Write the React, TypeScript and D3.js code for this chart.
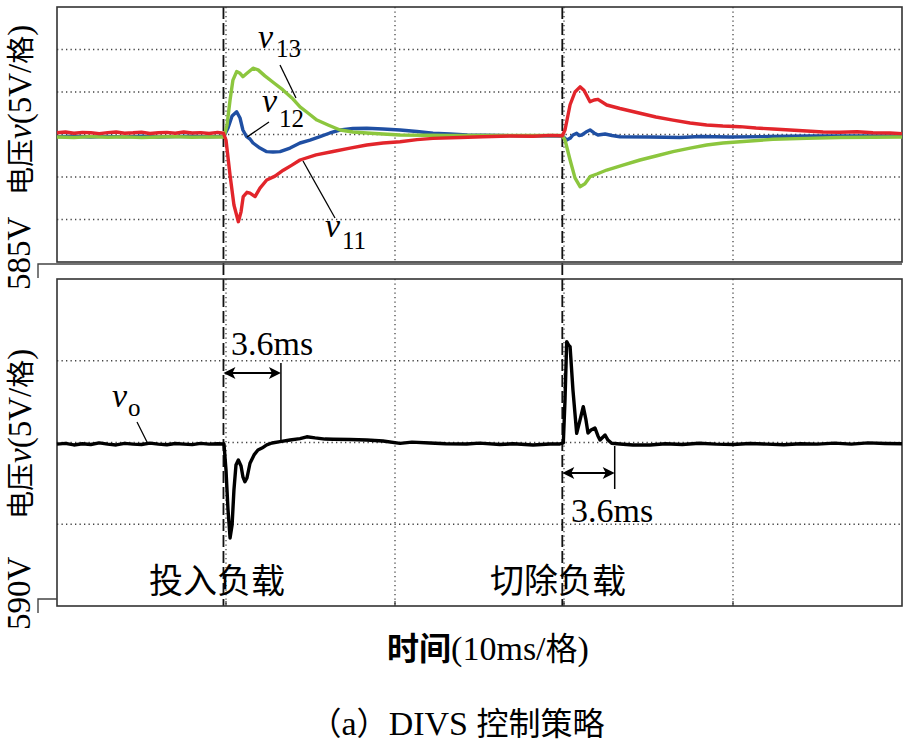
import React from "react";
import * as d3 from "d3";

type P = [number, number];

const eventTimes = [9.85, 29.9];
const xTicks = [10, 20, 30, 40];
const topGridV = [-10, -5, 0, 5, 10];
const botGridV = [-5, 0, 5];

const v11: P[] = [[0,0.2],[0.5,0.3],[1,0.15],[1.5,0.25],[2,0.2],[2.5,0.1],[3,0.22],[3.5,0.3],[4,0.15],[4.5,0.2],[5,0.28],[5.5,0.12],[6,0.2],[6.5,0.25],[7,0.15],[7.5,0.3],[8,0.18],[8.5,0.22],[9,0.12],[9.5,0.25],[9.85,0.15],[10.0,-0.65],[10.24,-4.8],[10.47,-8.3],[10.73,-10.26],[10.89,-9.1],[11.02,-7.3],[11.24,-6.8],[11.42,-6.9],[11.72,-7.3],[12.01,-6.3],[12.41,-5.35],[12.9,-4.9],[13.39,-4.2],[13.9,-3.6],[14.38,-3.0],[15.33,-2.4],[16.33,-2.0],[17.34,-1.6],[18.33,-1.24],[19.29,-1.0],[20.3,-0.85],[21.3,-0.6],[22.25,-0.45],[23.85,-0.35],[25.2,-0.26],[26.8,-0.18],[28.17,-0.2],[29.2,-0.1],[29.9,-0.15],[30.06,0.53],[30.36,3.5],[30.65,5.0],[30.95,5.6],[31.18,5.2],[31.54,3.86],[31.78,4.06],[32.01,4.14],[32.53,3.47],[33.31,3.06],[34.5,2.5],[35.44,2.06],[36.45,1.7],[37.46,1.35],[38.44,1.12],[39.4,1.0],[40.41,0.92],[41.36,0.76],[42.37,0.65],[43.37,0.53],[44.36,0.41],[45.33,0.29],[46.33,0.26],[47.34,0.32],[48.28,0.21],[49.29,0.18],[50,0.1]];

const v12: P[] = [[0,-0.25],[1,-0.2],[2,-0.3],[3,-0.22],[4,-0.28],[5,-0.2],[6,-0.3],[7,-0.24],[8,-0.2],[9,-0.28],[9.88,-0.2],[10.12,0.76],[10.36,2.18],[10.63,2.68],[10.83,1.94],[11.0,0.53],[11.22,-0.26],[11.42,-0.53],[11.6,-1.0],[12.01,-1.6],[12.41,-2.02],[12.78,-2.06],[13.2,-2.02],[13.79,-1.6],[14.38,-1.0],[14.97,-0.65],[15.56,-0.26],[16.15,0.18],[16.75,0.53],[17.51,0.7],[18.33,0.73],[19.29,0.65],[20.3,0.53],[21.3,0.35],[22.25,0.14],[23.25,0.06],[24.26,-0.06],[26.2,-0.12],[28,-0.15],[29.9,-0.18],[29.96,-0.26],[30.16,-0.65],[30.36,-0.45],[30.53,-0.06],[30.75,0.14],[30.89,-0.12],[31.05,-0.06],[31.3,0.29],[31.54,0.53],[31.78,0.18],[32.01,-0.06],[32.43,0.06],[32.84,-0.12],[33.31,-0.26],[35.09,-0.3],[36.86,-0.35],[38.05,-0.24],[39.82,-0.3],[42.19,-0.24],[44.56,-0.18],[46.92,-0.18],[50,-0.18]];

const v13: P[] = [[0,-0.3],[1,-0.35],[2,-0.25],[3,-0.32],[4,-0.28],[5,-0.35],[6,-0.3],[7,-0.25],[8,-0.33],[9,-0.28],[9.88,-0.3],[10.06,1.1],[10.24,4.06],[10.41,6.4],[10.63,7.4],[10.83,7.2],[11.0,6.8],[11.24,7.2],[11.6,7.8],[11.9,7.6],[12.3,6.9],[12.84,6.06],[13.37,5.24],[13.9,4.3],[14.38,3.24],[14.85,2.53],[15.38,1.7],[16.04,1.12],[16.75,0.53],[17.51,0.29],[18.34,0.18],[19.29,0.06],[20.3,-0.06],[23.25,-0.12],[26.2,-0.12],[29.9,-0.12],[30.06,-0.65],[30.36,-3.0],[30.65,-5.1],[30.95,-6.14],[31.24,-5.8],[31.54,-4.96],[31.95,-4.65],[32.53,-4.18],[33.49,-3.6],[34.5,-3.0],[35.44,-2.53],[36.45,-2.02],[37.46,-1.6],[38.44,-1.24],[39.4,-1.0],[40.41,-0.85],[42.37,-0.56],[44.36,-0.45],[46.33,-0.35],[48.28,-0.33],[50,-0.3]];

const vo: P[] = [[0,-0.1],[0.5,-0.05],[1,-0.15],[1.5,-0.08],[2,-0.12],[2.5,-0.02],[3,-0.1],[3.5,-0.15],[4,-0.05],[4.5,-0.1],[5,-0.12],[5.5,-0.04],[6,-0.1],[6.5,-0.14],[7,-0.06],[7.5,-0.1],[8,-0.13],[8.5,-0.05],[9,-0.1],[9.5,-0.08],[9.88,-0.09],[10.0,-1.68],[10.12,-4.13],[10.24,-5.84],[10.36,-5.05],[10.47,-2.9],[10.59,-1.38],[10.73,-1.07],[10.89,-1.44],[11.0,-2.1],[11.12,-2.4],[11.24,-2.17],[11.42,-1.27],[11.66,-0.76],[11.89,-0.46],[12.13,-0.34],[12.41,-0.15],[12.72,-0.03],[13.2,0.05],[13.79,0.15],[14.38,0.24],[14.78,0.35],[15.27,0.28],[15.86,0.21],[16.33,0.2],[17.34,0.18],[18.33,0.15],[19.29,0.09],[20.3,-0.05],[21,0.02],[22.07,-0.03],[23,-0.08],[24.24,-0.09],[25,-0.04],[26.21,-0.12],[27,-0.08],[28.17,-0.15],[29.17,-0.09],[29.76,-0.09],[29.96,-0.03],[30.06,2.6],[30.16,6.17],[30.27,5.96],[30.36,5.86],[30.53,3.21],[30.75,0.56],[30.95,1.38],[31.14,2.19],[31.3,1.38],[31.42,0.58],[31.6,0.76],[31.83,0.89],[32.01,0.4],[32.13,0.15],[32.31,0.34],[32.43,0.46],[32.6,0.15],[32.82,-0.05],[33.31,-0.09],[34.08,-0.15],[35.09,-0.15],[36,-0.08],[37,-0.12],[38,-0.05],[39,-0.1],[40,-0.12],[41,-0.06],[42,-0.1],[43,-0.14],[44,-0.08],[45,-0.1],[46,-0.04],[47,-0.1],[48,-0.02],[49,-0.06],[50,-0.08]];

const recoveryEnds = [13.25, 33.0];

const SERIF = "'Liberation Serif', 'Times New Roman', 'Noto Sans CJK SC', serif";
const CJK = "'Noto Sans CJK SC', 'Liberation Serif', sans-serif";

export default function App() {
  const L = 57, R = 902;
  const tTop = 7, tBot = 262;
  const bTop = 279, bBot = 606;
  const x = d3.scaleLinear().domain([0, 50]).range([L, R]);
  const yT = d3.scaleLinear().domain([-15, 15]).range([tBot, tTop]);
  const yB = d3.scaleLinear().domain([-10, 10]).range([bBot, bTop]);
  const lineT = d3.line<P>().x(d => x(d[0])).y(d => yT(d[1]));
  const lineB = d3.line<P>().x(d => x(d[0])).y(d => yB(d[1]));
  const dot = { stroke: "#444", strokeWidth: 1.3, strokeDasharray: "1.3,3.2", fill: "none" } as const;

  const arrow = (x1: number, x2: number, y: number, key: string) => {
    const h = 12, w = 6;
    return (
      <g key={key}>
        <line x1={x1 + 4} x2={x2 - 4} y1={y} y2={y} stroke="#000" strokeWidth={2} />
        <path d={`M${x1},${y} L${x1 + h},${y - w} L${x1 + h - 3},${y} L${x1 + h},${y + w} Z`} fill="#000" />
        <path d={`M${x2},${y} L${x2 - h},${y - w} L${x2 - h + 3},${y} L${x2 - h},${y + w} Z`} fill="#000" />
      </g>
    );
  };

  const e1 = x(eventTimes[0]), e2 = x(eventTimes[1]);
  const r1 = x(recoveryEnds[0]), r2 = x(recoveryEnds[1]);

  const yLabel = (yStart: number) => (
    <text transform={`translate(31,${yStart}) rotate(-90)`}>
      <tspan fontFamily={CJK} fontSize={28}>电压</tspan>
      <tspan fontStyle="italic">v</tspan>
      <tspan>(5V/</tspan>
      <tspan fontFamily={CJK} fontSize={28}>格</tspan>
      <tspan>)</tspan>
    </text>
  );

  return (
    <svg width={903} height={745} style={{ position: "absolute", left: 0, top: 0, background: "#fff" }}>
      <rect x={0} y={0} width={903} height={745} fill="#fff" />
      {/* grids */}
      {xTicks.map(t => (
        <g key={"gx" + t}>
          <line x1={x(t)} x2={x(t)} y1={tTop} y2={tBot} {...dot} />
          <line x1={x(t)} x2={x(t)} y1={bTop} y2={bBot} {...dot} />
          <line x1={x(t)} x2={x(t)} y1={bBot - 5} y2={bBot} stroke="#333" strokeWidth={1.2} />
        </g>
      ))}
      {topGridV.map(v => <line key={"gt" + v} x1={L} x2={R} y1={yT(v)} y2={yT(v)} {...dot} />)}
      {botGridV.map(v => <line key={"gb" + v} x1={L} x2={R} y1={yB(v)} y2={yB(v)} {...dot} />)}

      {/* event dashed lines */}
      {[e1, e2].map((ex, i) => (
        <line key={"ev" + i} x1={ex} x2={ex} y1={tTop} y2={bBot} stroke="#111" strokeWidth={1.8} strokeDasharray="12,4" />
      ))}

      {/* frames */}
      <rect x={L} y={tTop} width={R - L} height={tBot - tTop} fill="none" stroke="#333" strokeWidth={1.6} />
      <rect x={L} y={bTop} width={R - L} height={bBot - bTop} fill="none" stroke="#333" strokeWidth={1.6} />
      <path d={`M38,278 V264 H${R}`} fill="none" stroke="#444" strokeWidth={1.4} />
      <path d={`M38,613 V599 H${L}`} fill="none" stroke="#444" strokeWidth={1.4} />

      {/* traces */}
      <path d={lineT(v12) || ""} fill="none" stroke="#1f4fa3" strokeWidth={3.4} strokeLinejoin="round" />
      <path d={lineT(v13) || ""} fill="none" stroke="#8cc63e" strokeWidth={3.4} strokeLinejoin="round" />
      <path d={lineT(v11) || ""} fill="none" stroke="#e2252b" strokeWidth={3.4} strokeLinejoin="round" />
      <path d={lineB(vo) || ""} fill="none" stroke="#000" strokeWidth={3.4} strokeLinejoin="round" />

      {/* series labels */}
      <g fontFamily={SERIF} fill="#000">
        <text x={258} y={48} fontSize={34} fontStyle="italic">v</text>
        <text x={276} y={57} fontSize={25}>13</text>
        <line x1={280} y1={65} x2={296} y2={98} stroke="#000" strokeWidth={1.3} />
        <text x={262} y={112} fontSize={34} fontStyle="italic">v</text>
        <text x={279} y={127} fontSize={25}>12</text>
        <line x1={269} y1={122} x2={247} y2={137} stroke="#000" strokeWidth={1.3} />
        <text x={325} y={237} fontSize={34} fontStyle="italic">v</text>
        <text x={342} y={249} fontSize={25}>11</text>
        <line x1={303} y1={161} x2={335} y2={218} stroke="#000" strokeWidth={1.3} />
        <text x={112} y={407} fontSize={34} fontStyle="italic">v</text>
        <text x={128} y={416} fontSize={25}>o</text>
        <line x1={137} y1={422} x2={147} y2={442} stroke="#000" strokeWidth={1.3} />
      </g>

      {/* 3.6ms annotations */}
      {arrow(e1, r1, 373, "a1")}
      <line x1={r1} x2={r1} y1={363} y2={442} stroke="#000" strokeWidth={1.5} />
      <text x={231} y={355} fontFamily={SERIF} fontSize={34}>3.6ms</text>
      {arrow(e2, r2, 473, "a2")}
      <line x1={r2} x2={r2} y1={446} y2={489} stroke="#000" strokeWidth={1.5} />
      <text x={571} y={522} fontFamily={SERIF} fontSize={34}>3.6ms</text>

      <text x={217} y={593} textAnchor="middle" fontFamily={CJK} fontSize={34}>投入负载</text>
      <text x={558} y={593} textAnchor="middle" fontFamily={CJK} fontSize={34}>切除负载</text>

      {/* left labels */}
      <g fontFamily={SERIF} fontSize={33} fill="#000">
        <text transform="translate(30,290) rotate(-90)">585V</text>
        {yLabel(195)}
        <text transform="translate(30,630) rotate(-90)">590V</text>
        {yLabel(519)}
      </g>

      {/* x label */}
      <text x={488} y={660} textAnchor="middle" fontFamily={SERIF} fontSize={34}>
        <tspan fontFamily={CJK} fontWeight="bold" fontSize={32}>时间</tspan>
        <tspan>(10ms/</tspan>
        <tspan fontFamily={CJK} fontSize={32}>格</tspan>
        <tspan>)</tspan>
      </text>

      {/* caption */}
      <text x={457} y={735} textAnchor="middle" fontFamily={SERIF} fontSize={34}>
        <tspan fontFamily={CJK} fontSize={32}>（</tspan>
        <tspan>a</tspan>
        <tspan fontFamily={CJK} fontSize={32}>）</tspan>
        <tspan>DIVS </tspan>
        <tspan fontFamily={CJK} fontSize={32}>控制策略</tspan>
      </text>
    </svg>
  );
}
